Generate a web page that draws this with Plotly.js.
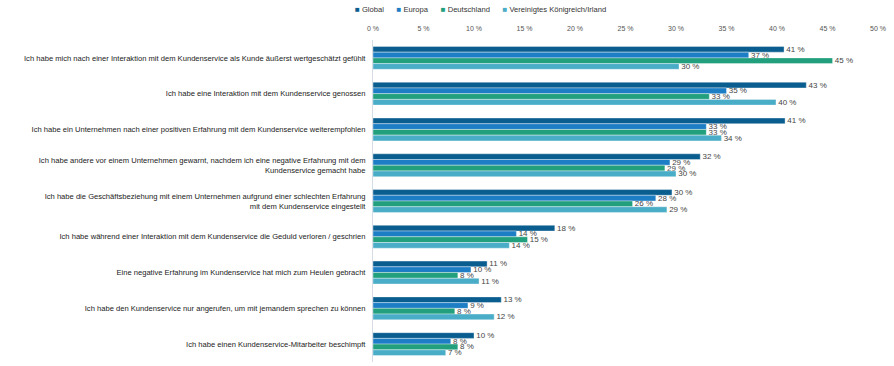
<!DOCTYPE html>
<html>
<head>
<meta charset="utf-8">
<script src="https://cdn.plot.ly/plotly-3.0.1.min.js"></script>
<style>html,body{margin:0;padding:0;background:#fff;}#chart{width:894px;height:366px;}</style>
</head>
<body>
<div id="chart"></div>
<script>
const categories = [
  "Ich habe mich nach einer Interaktion mit dem Kundenservice als Kunde äußerst wertgeschätzt gefühlt",
  "Ich habe eine Interaktion mit dem Kundenservice genossen",
  "Ich habe ein Unternehmen nach einer positiven Erfahrung mit dem Kundenservice weiterempfohlen",
  "Ich habe andere vor einem Unternehmen gewarnt, nachdem ich eine negative Erfahrung mit dem<br>Kundenservice gemacht habe",
  "Ich habe die Geschäftsbeziehung mit einem Unternehmen aufgrund einer schlechten Erfahrung<br>mit dem Kundenservice eingestellt",
  "Ich habe während einer Interaktion mit dem Kundenservice die Geduld verloren / geschrien",
  "Eine negative Erfahrung im Kundenservice hat mich zum Heulen gebracht",
  "Ich habe den Kundenservice nur angerufen, um mit jemandem sprechen zu können",
  "Ich habe einen Kundenservice-Mitarbeiter beschimpft"
];
const seriesNames = ["Global", "Europa", "Deutschland", "Vereinigtes Königreich/Irland"];
const globalVals = [40.7, 42.9, 40.8, 32.4, 29.6, 18.0, 11.3, 12.7, 10.0];
const europaVals = [37.2, 35.0, 33.0, 29.4, 28.0, 14.2, 9.7, 9.4, 7.7];
const deutschlandVals = [45.5, 33.3, 33.0, 28.9, 25.7, 15.3, 8.4, 8.1, 8.4];
const ukVals = [30.3, 39.9, 34.5, 30.0, 29.1, 13.5, 10.5, 12.0, 7.2];
const globalLabels = ["41 %", "43 %", "41 %", "32 %", "30 %", "18 %", "11 %", "13 %", "10 %"];
const europaLabels = ["37 %", "35 %", "33 %", "29 %", "28 %", "14 %", "10 %", "9 %", "8 %"];
const deutschlandLabels = ["45 %", "33 %", "33 %", "29 %", "26 %", "15 %", "8 %", "8 %", "8 %"];
const ukLabels = ["30 %", "40 %", "34 %", "30 %", "29 %", "14 %", "11 %", "12 %", "7 %"];
const colors = ["#0a5e8f", "#1d7ec5", "#22a07e", "#4aadc7"];
const tickVals = [0, 5, 10, 15, 20, 25, 30, 35, 40, 45, 50];
const tickText = ["0 %", "5 %", "10 %", "15 %", "20 %", "25 %", "30 %", "35 %", "40 %", "45 %", "50 %"];

const values = [globalVals, europaVals, deutschlandVals, ukVals];
const labels = [globalLabels, europaLabels, deutschlandLabels, ukLabels];
const FONT = "Liberation Sans, Arial, sans-serif";

const traces = [];
for (let i = 0; i < 4; i++) {
  traces.push({
    type: "bar",
    orientation: "h",
    name: seriesNames[i],
    y: categories,
    x: values[i],
    text: labels[i],
    texttemplate: "\u00a0%{text}",
    textposition: "outside",
    constraintext: "none",
    cliponaxis: false,
    textfont: {size: 8, color: "#444", family: FONT},
    marker: {color: colors[i], line: {width: 0.6, color: "rgba(255,255,255,0.6)"}},
    showlegend: false,
    hoverinfo: "none"
  });
}

// legend drawn as a single line of text
const legendText = seriesNames.map((n, i) =>
  "<span style='color:" + colors[i] + ";font-size:8px'>■</span>\u00a0" + n).join("\u00a0\u00a0\u00a0\u00a0\u00a0\u00a0");

const layout = {
  width: 894,
  height: 366,
  margin: {l: 373, r: 16, t: 40, b: 4},
  paper_bgcolor: "#fff",
  plot_bgcolor: "#fff",
  font: {family: FONT, size: 7, color: "#222"},
  barmode: "group",
  bargap: 0.36,
  bargroupgap: 0,
  showlegend: false,
  annotations: [{
    text: legendText,
    xref: "paper", yref: "paper",
    x: -0.04, xanchor: "left",
    y: 1.096, yanchor: "middle",
    showarrow: false,
    font: {size: 7.6, color: "#333", family: FONT}
  }],
  xaxis: {
    side: "top",
    range: [0, 50],
    tickvals: tickVals,
    ticktext: tickText,
    showgrid: false,
    zeroline: false,
    showline: false,
    ticks: "",
    ticklabelstandoff: 7,
    tickfont: {size: 7, color: "#555"},
    fixedrange: true
  },
  yaxis: {
    type: "category",
    autorange: "reversed",
    showgrid: false,
    zeroline: false,
    showline: true,
    linecolor: "#d5dce6",
    linewidth: 1,
    ticks: "",
    ticklabelstandoff: 5,
    tickfont: {size: 7.6, color: "#222"},
    fixedrange: true
  }
};

Plotly.newPlot("chart", traces, layout, {displayModeBar: false, staticPlot: true});
</script>
</body>
</html>
